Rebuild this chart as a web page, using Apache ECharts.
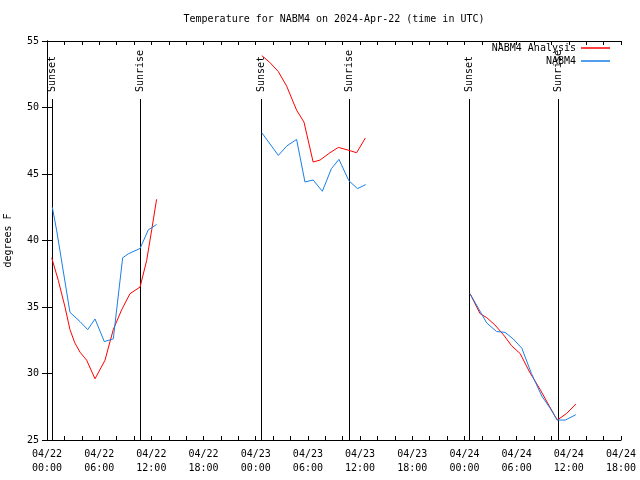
<!DOCTYPE html>
<html>
<head>
<meta charset="utf-8">
<script src="https://cdn.jsdelivr.net/npm/echarts@6/dist/echarts.min.js"></script>
<style>html,body{margin:0;padding:0;background:#fff}#c{width:640px;height:480px}</style>
</head>
<body>
<div id="c"></div>
<script>
// Hours since 2024-04-22 00:00 UTC; null separates nights
var analysisHours = [0.54,1.3,2.07,2.64,3.2,3.8,4.56,5.52,6.67,7.62,8.59,9.54,10.7,11.46,12.04,12.6, 18,
  24.7,25.6,26.6,27.56,28.7,29.55,30.6,31.4,32.54,33.5,34.6,35.6,36.6, 42,
  48.64,49.8,50.56,51.5,52.5,53.4,54.4,55.5,56.7,57.8,58.67,59.76,60.8];
var analysisTemps = [38.7,37.0,35.0,33.3,32.3,31.6,31.0,29.6,31.0,33.3,34.8,36.0,36.5,38.5,40.8,43.1, null,
  53.9,53.4,52.7,51.6,49.8,48.9,45.9,46.05,46.6,47.0,46.8,46.6,47.7, null,
  36.0,34.5,34.2,33.65,32.9,32.1,31.5,30.1,28.8,27.5,26.5,27.0,27.7];
var obsHours = [0.61,1.1,2.64,3.8,4.68,5.52,6.59,7.62,8.7,9.35,10.7,11.65,12.6, 18,
  24.7,26.6,27.56,28.7,29.66,30.6,31.66,32.7,33.57,34.7,35.7,36.65, 42,
  48.64,49.6,50.56,51.7,52.66,53.6,54.6,55.7,56.9,57.84,58.67,59.6,60.8];
var obsTemps = [42.5,40.8,34.6,33.9,33.3,34.1,32.4,32.6,38.7,39.0,39.4,40.8,41.2, null,
  48.1,46.4,47.1,47.6,44.4,44.55,43.7,45.4,46.1,44.5,43.9,44.2, null,
  36.0,34.9,33.8,33.15,33.1,32.6,31.9,30.0,28.3,27.4,26.5,26.5,26.9];
var sunEventHours = [0.55, 10.73, 24.6, 34.7, 48.52, 58.75];
var sunEventNames = ['Sunset','Sunrise','Sunset','Sunrise','Sunset','Sunrise'];
var dayLabels = ['04/22','04/23','04/24'];
var seriesNames = ['NABM4 Analysis','NABM4'];
var titleText = 'Temperature for NABM4 on 2024-Apr-22 (time in UTC)';
var yName = 'degrees F';

var FONT = '"DejaVu Sans Mono", "Liberation Mono", monospace';
var xMin = 0, xMax = 66, yMin = 25, yMax = 55;

function pairs(xs, ys){ return xs.map(function(x,i){ return [x, ys[i]]; }); }
function pad(n){ return (n<10?'0':'') + n; }

var chart = echarts.init(document.getElementById('c'), null, {renderer:'canvas'});
var txt = {fontFamily: FONT, fontSize: 10, color: '#000'};
var option = {
  animation: false,
  backgroundColor: '#fff',
  graphic: [{type:'text', x: 334, y: 19, style:{text: titleText, align:'center', verticalAlign:'middle', font: '10px ' + FONT, fill:'#000'}}],
  grid: {left: 47, right: 19, top: 41, bottom: 40, containLabel: false, outerBoundsMode: 'none'},
  legend: [
    {data:[seriesNames[0]], right: 30, top: 43, padding: 0, align:'right', icon:'rect', itemWidth: 29, itemHeight: 1.5, textStyle: txt},
    {data:[seriesNames[1]], right: 30, top: 56, padding: 0, align:'right', icon:'rect', itemWidth: 29, itemHeight: 1.5, textStyle: txt}
  ],
  xAxis: [
    {type:'value', min:xMin, max:xMax, interval:2, position:'bottom',
     axisLine:{lineStyle:{color:'#000', width:1}},
     axisTick:{inside:true, length:4, lineStyle:{color:'#000'}},
     splitLine:{show:false},
     axisLabel:{margin:7, lineHeight:14, fontFamily:FONT, fontSize:10, color:'#000', hideOverlap:false,
       formatter:function(v){ if (v % 6 !== 0) return ''; var d = Math.floor(v/24); return dayLabels[d] + '\n' + pad(v % 24) + ':00'; }}},
    {type:'value', min:xMin, max:xMax, interval:2, position:'top',
     axisLine:{lineStyle:{color:'#000', width:1}},
     axisTick:{inside:true, length:4, lineStyle:{color:'#000'}},
     splitLine:{show:false}, axisLabel:{show:false}}
  ],
  yAxis: [
    {type:'value', min:yMin, max:yMax, interval:5, position:'left',
     name: yName, nameLocation:'middle', nameGap: 34, nameRotate: 90,
     nameTextStyle:{fontFamily:FONT, fontSize:10, color:'#000'},
     axisLine:{show:true, lineStyle:{color:'#000', width:1}},
     axisTick:{show:true, inside:true, length:5, lineStyle:{color:'#000'}},
     splitLine:{show:false},
     axisLabel:{margin:8, fontFamily:FONT, fontSize:10, color:'#000'}},
    {type:'value', min:yMin, max:yMax, interval:5, position:'right',
     axisLine:{show:true, lineStyle:{color:'#000', width:1}},
     axisTick:{show:true, inside:true, length:5, lineStyle:{color:'#000'}},
     splitLine:{show:false}, axisLabel:{show:false}}
  ],
  series: [
    {type:'custom', xAxisIndex:0, yAxisIndex:0, z:1, silent:true,
     data: sunEventHours.map(function(h){ return [h, yMin]; }),
     renderItem: function(params, api){
       var p = api.coord([api.value(0), yMin]);
       var top = params.coordSys.y;
       var x = Math.round(p[0]) + 0.5;
       return {type:'group', children:[
         {type:'line', shape:{x1:x, y1:p[1], x2:x, y2: top + 58}, style:{stroke:'#000', lineWidth:1}},
         {type:'text', x: x, y: top + 51, rotation: Math.PI/2,
          style:{text: sunEventNames[params.dataIndex], x:0, y:0, align:'left', verticalAlign:'middle', font:'10px ' + FONT, fill:'#000'}}
       ]};
     }},
    {name: seriesNames[0], type:'line', xAxisIndex:0, yAxisIndex:0, z:3, showSymbol:false, connectNulls:false,
     color:'#ff0000', lineStyle:{color:'#ff0000', width:1}, data: pairs(analysisHours, analysisTemps)},
    {name: seriesNames[1], type:'line', xAxisIndex:0, yAxisIndex:0, z:3, showSymbol:false, connectNulls:false,
     color:'#1a7fe8', lineStyle:{color:'#1a7fe8', width:1}, data: pairs(obsHours, obsTemps)}
  ]
};
chart.setOption(option);
</script>
</body>
</html>
